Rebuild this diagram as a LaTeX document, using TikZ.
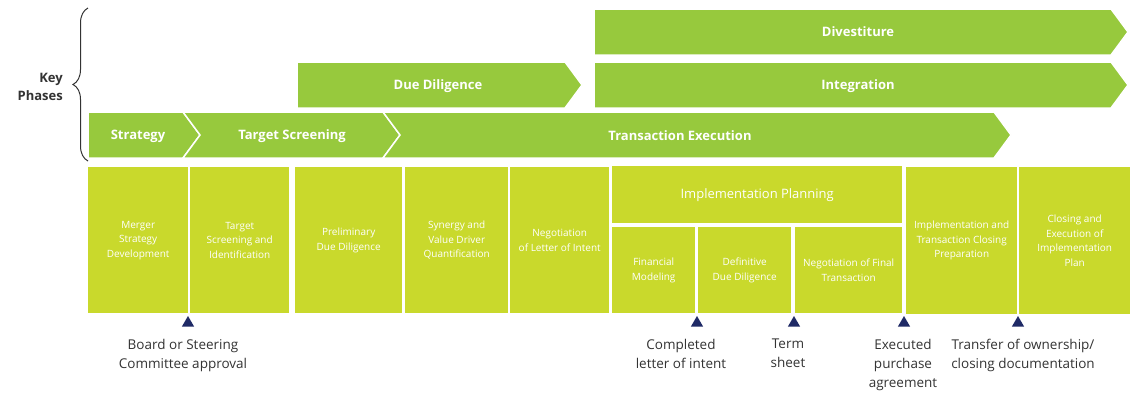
\documentclass[tikz,border=0pt]{standalone}
\usepackage{fontspec}
\setmainfont{Open Sans}
\usepackage{xcolor}
\usetikzlibrary{decorations.pathreplacing,shapes.geometric}

\definecolor{phasegreen}{HTML}{97C93D}
\definecolor{boxlime}{HTML}{C9D92C}
\definecolor{navy}{HTML}{1F2A66}
\definecolor{labelgray}{HTML}{333333}

\begin{document}
\begin{tikzpicture}[x=1pt,y=-1pt]
\tikzset{phase/.style={fill=phasegreen,draw=white,line width=1.5pt}}
\tikzset{phase label/.style={text=white,font=\bfseries\fontsize{13}{15}\selectfont}}
\tikzset{task/.style={fill=boxlime,text=white,align=center,inner sep=0pt,anchor=north west,font=\fontsize{10}{14.5}\selectfont}}
\tikzset{milestone/.style={regular polygon,regular polygon sides=3,fill=navy,inner sep=0pt,minimum size=14pt}}
\tikzset{milestone label/.style={anchor=north,align=center,inner sep=0pt,text=labelgray,font=\fontsize{13.5}{19}\selectfont}}

\useasboundingbox[fill=white] (0,0) rectangle (1136,394);

% key phases
\node[anchor=east,align=right,inner sep=0pt,text=labelgray,font=\bfseries\fontsize{13}{18}\selectfont] (key) at (63,87) {Key\\Phases};
\coordinate (bracetop) at (88,8);
\coordinate (bracebot) at (88,161);
\draw[labelgray,line width=1pt,decorate,decoration={brace,amplitude=15pt}] (bracebot) -- (bracetop);

% phase arrows
\path[phase] (594,9) -- (1111,9) -- (1128,32) -- (1111,55) -- (594,55) -- cycle;
\node[phase label] (divestiture) at (858,32) {Divestiture};

\path[phase] (297,62) -- (565,62) -- (582,85) -- (565,108) -- (297,108) -- cycle;
\node[phase label] (duediligence) at (438,86) {Due Diligence};
\path[phase] (594,62) -- (1111,62) -- (1128,85) -- (1111,108) -- (594,108) -- cycle;
\node[phase label] (integration) at (858,86) {Integration};

\path[phase] (88,112) -- (183,112) -- (200,135) -- (183,158) -- (88,158) -- cycle;
\node[phase label] (strategy) at (138,136) {Strategy};
\path[phase] (183,112) -- (383,112) -- (400,135) -- (383,158) -- (183,158) -- (200,135) -- cycle;
\node[phase label] (screening) at (292,136) {Target Screening};
\path[phase] (383,112) -- (994,112) -- (1011,135) -- (994,158) -- (383,158) -- (400,135) -- cycle;
\node[phase label] (execution) at (680,136) {Transaction Execution};

% activities
\node[task,minimum width=100pt,minimum height=146pt] (merger) at (88,167) {Merger\\Strategy\\Development};
\node[task,minimum width=99pt,minimum height=146pt] (identification) at (190,167) {Target\\Screening and\\Identification};
\node[task,minimum width=107pt,minimum height=146pt] (preliminary) at (295,167) {Preliminary\\Due Diligence};
\node[task,minimum width=103pt,minimum height=146pt] (synergy) at (405,167) {Synergy and\\Value Driver\\Quantification};
\node[task,minimum width=99pt,minimum height=146pt] (intent) at (510,167) {Negotiation\\of Letter of Intent};
\node[task,minimum width=290pt,minimum height=57pt,font=\fontsize{13}{15}\selectfont] (planning) at (612,166) {Implementation Planning};
\node[task,minimum width=83pt,minimum height=86pt] (modeling) at (612,227) {Financial\\Modeling};
\node[task,minimum width=93pt,minimum height=86pt] (definitive) at (698,227) {Definitive\\Due Diligence};
\node[task,minimum width=107pt,minimum height=86pt] (final) at (795,227) {Negotiation of Final\\Transaction};
\node[task,minimum width=111pt,minimum height=147pt] (closingprep) at (906,167) {Implementation and\\Transaction Closing\\Preparation};
\node[task,minimum width=111pt,minimum height=147pt] (closingexec) at (1019,167) {Closing and\\Execution of\\Implementation\\Plan};

% milestones
\node[milestone] (approval) at (188,323) {};
\node[milestone] (completed) at (697,323) {};
\node[milestone] (term) at (794,323) {};
\node[milestone] (executed) at (904,323) {};
\node[milestone] (transfer) at (1018,323) {};

\node[milestone label] (approvaltext) at (183,339) {Board or Steering\\Committee approval};
\node[milestone label] (completedtext) at (681,339) {Completed\\letter of intent};
\node[milestone label] (termtext) at (788,339) {Term\\sheet};
\node[milestone label] (executedtext) at (903,339) {Executed\\purchase\\agreement};
\node[milestone label] (transfertext) at (1023,339) {Transfer of ownership/\\closing documentation};

\end{tikzpicture}
\end{document}
